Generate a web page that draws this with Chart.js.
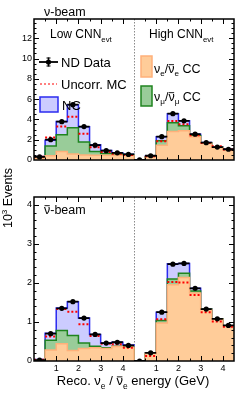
<!DOCTYPE html>
<html>
<head>
<meta charset="utf-8">
<script src="https://cdn.jsdelivr.net/npm/chart.js@4.4.1/dist/chart.umd.min.js"></script>
<style>
  html, body { margin: 0; padding: 0; background: #fff; }
  #wrap { position: relative; width: 243px; height: 398px; }
  #wrap canvas { position: absolute; left: 0; top: 0; }
</style>
</head>
<body>
<div id="wrap">
  <canvas id="nuPanel" width="243" height="398"></canvas>
  <canvas id="anuPanel" width="243" height="398"></canvas>
</div>
<script>
// bin edges (GeV) of one CNN half; the High CNN half is drawn shifted by 4.5
const binEdges = [0, 0.5, 1, 1.5, 2, 2.5, 3, 3.5, 4, 4.5];
const halfWidth = 4.5;
const xTickLabels = ['1', '2', '3', '4'];
const nuYTicks = [0, 2, 4, 6, 8, 10, 12];
const anuYTicks = [0, 1, 2, 3, 4];

// nu-beam, 10^3 events: 9 Low CNN bins then 9 High CNN bins
const nuNueCC  = [0.18, 0.42, 0.83, 0.58, 0.50, 0.47, 0.47, 0.48, 0.47,  0.00, 0.30, 1.45, 2.80, 2.88, 2.29, 1.66, 1.22, 1.00];
const nuNumuCC = [0.15, 0.96, 1.66, 2.59, 1.27, 0.36, 0.18, 0.12, 0.06,  0.00, 0.03, 0.45, 0.88, 0.49, 0.09, 0.03, 0.03, 0.02];
const nuNC     = [0.02, 0.57, 1.31, 2.28, 1.50, 0.67, 0.29, 0.12, 0.03,  0.00, 0.05, 0.39, 0.89, 0.49, 0.17, 0.03, 0.03, 0.03];
const nuData   = [0.30, 2.00, 3.78, 5.45, 3.30, 1.46, 0.92, 0.71, 0.55,  0.02, 0.42, 2.30, 4.57, 3.86, 2.55, 1.71, 1.27, 1.06];
const nuUncorr = [0.33, 2.23, 3.30, 4.26, 2.60, 1.25, 0.80, 0.62, 0.50,  0.00, 0.38, 1.86, 3.84, 3.53, 2.44, 1.68, 1.35, 1.04];

// antinu-beam
const anuNueCC  = [0.02, 0.28, 0.44, 0.27, 0.32, 0.34, 0.32, 0.37, 0.35,  0.00, 0.20, 0.97, 1.95, 2.14, 1.74, 1.32, 1.07, 0.90];
const anuNumuCC = [0.01, 0.25, 0.34, 0.38, 0.14, 0.04, 0.02, 0.01, 0.01,  0.00, 0.00, 0.07, 0.15, 0.11, 0.05, 0.01, 0.01, 0.00];
const anuNC     = [0.01, 0.18, 0.58, 0.87, 0.64, 0.30, 0.12, 0.10, 0.05,  0.00, 0.01, 0.21, 0.39, 0.25, 0.07, 0.00, 0.00, 0.00];
const anuData   = [0.02, 0.70, 1.35, 1.52, 1.10, 0.68, 0.46, 0.48, 0.40,  0.00, 0.21, 1.25, 2.48, 2.50, 1.86, 1.33, 1.08, 0.91];
const anuUncorr = [0.03, 0.63, 1.33, 1.26, 0.94, 0.64, 0.44, 0.43, 0.34,  0.00, 0.13, 1.07, 2.02, 2.01, 1.69, 1.25, 1.01, 0.88];

const FONT = "'Liberation Sans', Arial, sans-serif";
const C = {
  nue: '#ffcc99', nueLine: '#ffb07a',
  numu: '#99cc99', numuLine: '#1f841f',
  nc: '#ccccff', ncLine: '#2b2bf0',
  uncorr: '#ff0000'
};

// 19 edges for the 18 bins (both halves)
const xEdges = binEdges.slice(0, -1).concat(binEdges.map(e => e + halfWidth));
const add = (a, b) => a.map((v, i) => v + b[i]);

// histogram outline: one point per left edge + closing point
const steps = vals => xEdges.map((x, i) => ({ x, y: vals[Math.min(i, vals.length - 1)] }));
// separate horizontal bar per bin
const bars = vals => vals.flatMap((v, i) => [
  { x: xEdges[i], y: v }, { x: xEdges[i + 1], y: v }, { x: xEdges[i + 1], y: null }
]);
const centers = vals => vals.map((v, i) => ({ x: (xEdges[i] + xEdges[i + 1]) / 2, y: v }));

// text with sub/superscripts and overbars
function rich(ctx, x, y, parts, size, center) {
  const fontOf = p => `${p.small ? size * 0.65 : size}px ${FONT}`;
  let w = 0;
  for (const p of parts) { ctx.font = fontOf(p); w += ctx.measureText(p.t).width; }
  let cx = center ? x - w / 2 : x;
  for (const p of parts) {
    ctx.font = fontOf(p);
    const dy = p.sub ? size * 0.3 : p.sup ? -size * 0.42 : 0;
    const tw = ctx.measureText(p.t).width;
    ctx.fillText(p.t, cx, y + dy);
    if (p.bar) ctx.fillRect(cx + 0.5, y + dy - size * 0.66, tw - 1, 0.9);
    cx += tw;
  }
}

function decor(cfg) {
  return {
    id: 'decor',
    beforeDatasetsDraw(chart) {
      const { ctx, chartArea: a, scales: { x } } = chart;
      const px = Math.round(x.getPixelForValue(halfWidth)) + 0.5;
      ctx.save();
      ctx.strokeStyle = '#8a8a8a';
      ctx.lineWidth = 1;
      ctx.setLineDash([1.5, 1.5]);
      ctx.beginPath(); ctx.moveTo(px, a.top); ctx.lineTo(px, a.bottom); ctx.stroke();
      ctx.restore();
    },
    afterDatasetsDraw(chart) {
      const { ctx, chartArea: a, scales: { x, y } } = chart;
      ctx.save();
      ctx.strokeStyle = '#000';
      ctx.lineWidth = 1;
      ctx.beginPath();
      // y ticks, inward on both sides
      for (let k = 1; k * cfg.yMinor < y.max - 1e-6; k++) {
        const v = k * cfg.yMinor;
        const r = v / cfg.yMajor;
        const len = Math.abs(r - Math.round(r)) < 1e-6 ? 5 : 2.5;
        const py = Math.round(y.getPixelForValue(v)) + 0.5;
        ctx.moveTo(a.left, py); ctx.lineTo(a.left + len, py);
        ctx.moveTo(a.right, py); ctx.lineTo(a.right - len, py);
      }
      // x ticks every 0.5 GeV in each half
      for (const half of [0, halfWidth]) {
        for (const e of binEdges.slice(1, -1)) {
          const len = Number.isInteger(e) ? 5 : 2.5;
          const px = Math.round(x.getPixelForValue(e + half)) + 0.5;
          ctx.moveTo(px, a.bottom); ctx.lineTo(px, a.bottom - len);
          ctx.moveTo(px, a.top); ctx.lineTo(px, a.top + len);
        }
      }
      ctx.stroke();
      ctx.lineWidth = 1.5;
      ctx.strokeRect(a.left, a.top, a.right - a.left, a.bottom - a.top);
      ctx.fillStyle = '#000';
      ctx.textBaseline = 'alphabetic';
      ctx.textAlign = 'left';
      cfg.labels(ctx);
      ctx.restore();
    }
  };
}

function panel(id, s, cfg) {
  const numuTop = add(s.nue, s.numu);
  const total = add(numuTop, s.nc);
  const tickFont = { family: FONT, size: 9 };
  return new Chart(document.getElementById(id), {
    type: 'line',
    data: {
      datasets: [
        { data: centers(s.data), showLine: false, pointRadius: 2.6, pointBackgroundColor: '#000', pointBorderWidth: 0 },
        { data: bars(s.data), borderColor: '#000', borderWidth: 1.8, pointRadius: 0, spanGaps: false },
        { data: bars(s.uncorr), borderColor: C.uncorr, borderWidth: 2, borderDash: [2, 2], pointRadius: 0, spanGaps: false },
        { data: steps(s.nue), stepped: 'before', fill: 'origin', backgroundColor: C.nue, borderColor: C.nueLine, borderWidth: 1.5, pointRadius: 0 },
        { data: steps(numuTop), stepped: 'before', fill: 'origin', backgroundColor: C.numu, borderColor: C.numuLine, borderWidth: 1.5, pointRadius: 0 },
        { data: steps(total), stepped: 'before', fill: 'origin', backgroundColor: C.nc, borderColor: C.ncLine, borderWidth: 1.5, pointRadius: 0 }
      ]
    },
    options: {
      responsive: false,
      animation: false,
      devicePixelRatio: 1,
      layout: { padding: cfg.padding },
      plugins: { legend: { display: false }, tooltip: { enabled: false } },
      scales: {
        x: {
          type: 'linear', min: 0, max: 2 * halfWidth, display: cfg.showX,
          grid: { display: false, drawTicks: false }, border: { display: false },
          afterBuildTicks: sc => {
            sc.ticks = xTickLabels.flatMap((_, i) => [i + 1, i + 1 + halfWidth]).sort((p, q) => p - q).map(v => ({ value: v }));
          },
          ticks: {
            font: tickFont, color: '#000', padding: 2, maxRotation: 0, autoSkip: false,
            callback: v => xTickLabels[Math.round(v > halfWidth ? v - halfWidth : v) - 1]
          },
          afterFit: sc => { sc.height = 37; }
        },
        y: {
          min: 0, max: cfg.yMax,
          grid: { display: false, drawTicks: false }, border: { display: false },
          afterBuildTicks: sc => { sc.ticks = cfg.yTicks.map(v => ({ value: v })); },
          ticks: { font: tickFont, color: '#000', padding: 2 },
          afterFit: sc => { sc.width = 34; }
        }
      }
    },
    plugins: [decor(cfg)]
  });
}

const nuBar = t => ({ t, bar: 1 });
const sub = t => ({ t, sub: 1, small: 1 });

panel('nuPanel',
  { nue: nuNueCC, numu: nuNumuCC, nc: nuNC, data: nuData, uncorr: nuUncorr },
  {
    padding: { top: 19, right: 9, bottom: 201, left: 0 },
    showX: false, yMax: 13.9, yTicks: nuYTicks, yMinor: 0.5, yMajor: 2,
    labels(ctx) {
      ctx.save();
      ctx.translate(12, 198);
      ctx.rotate(-Math.PI / 2);
      rich(ctx, 0, 0, [{ t: '10' }, { t: '3', sup: 1, small: 1 }, { t: ' Events' }], 12.5, true);
      ctx.restore();
      rich(ctx, 44, 15.5, [{ t: 'ν-beam' }], 12.5);
      rich(ctx, 50, 38, [{ t: 'Low CNN' }, sub('evt')], 12);
      rich(ctx, 149, 38, [{ t: 'High CNN' }, sub('evt')], 12);
      // ND Data
      ctx.fillRect(39, 61.1, 19, 1.8);
      ctx.fillRect(47.8, 57.5, 1.4, 9);
      ctx.fillRect(46.5, 57.5, 4, 1);
      ctx.fillRect(46.5, 65.5, 4, 1);
      ctx.beginPath(); ctx.arc(48.5, 62, 2.6, 0, 2 * Math.PI); ctx.fill();
      rich(ctx, 61, 66.5, [{ t: 'ND Data' }], 13);
      // Uncorr. MC
      ctx.save();
      ctx.strokeStyle = C.uncorr; ctx.lineWidth = 1.2; ctx.setLineDash([2, 2]);
      ctx.beginPath(); ctx.moveTo(40, 84); ctx.lineTo(57, 84); ctx.stroke();
      ctx.restore();
      rich(ctx, 61, 88.5, [{ t: 'Uncorr. MC' }], 13);
      // boxes
      const box = (x, y, w, h, f, l) => {
        ctx.save();
        ctx.fillStyle = f; ctx.fillRect(x, y, w, h);
        ctx.strokeStyle = l; ctx.lineWidth = 1.5; ctx.strokeRect(x, y, w, h);
        ctx.restore();
      };
      box(40, 97, 18, 15, C.nc, C.ncLine);
      rich(ctx, 62, 109.5, [{ t: 'NC' }], 13);
      box(141, 56, 11, 21, C.nue, C.nueLine);
      rich(ctx, 154, 72.5, [{ t: 'ν' }, sub('e'), { t: '/' }, nuBar('ν'), sub('e'), { t: ' CC' }], 12.5);
      box(141, 86, 11, 20, C.numu, C.numuLine);
      rich(ctx, 154, 100.5, [{ t: 'ν' }, sub('μ'), { t: '/' }, nuBar('ν'), sub('μ'), { t: ' CC' }], 12.5);
    }
  });

panel('anuPanel',
  { nue: anuNueCC, numu: anuNumuCC, nc: anuNC, data: anuData, uncorr: anuUncorr },
  {
    padding: { top: 197, right: 9, bottom: 0, left: 0 },
    showX: true, yMax: 4.2, yTicks: anuYTicks, yMinor: 0.2, yMajor: 1,
    labels(ctx) {
      rich(ctx, 44, 213.5, [nuBar('ν'), { t: '-beam' }], 12.5);
      rich(ctx, 133, 385, [{ t: 'Reco. ν' }, sub('e'), { t: ' / ' }, nuBar('ν'), sub('e'), { t: ' energy (GeV)' }], 13, true);
    }
  });
</script>
</body>
</html>
